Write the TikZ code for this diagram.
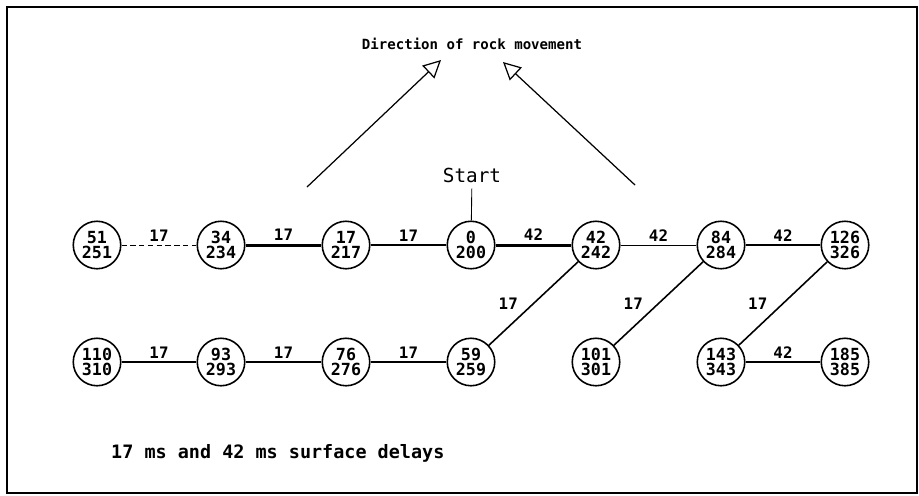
\documentclass[tikz,border=0pt]{standalone}
\usepackage{fontspec}
\setmainfont{DejaVu Sans}
\setmonofont{DejaVu Sans Mono}
\usetikzlibrary{arrows.meta, positioning}

\begin{document}
\begin{tikzpicture}[
  x=0.02cm, y=-0.02cm,
  hole/.style={draw, circle, line width=0.9pt, minimum size=0.95cm, inner sep=0pt, align=center, font=\ttfamily\bfseries\fontsize{9.5}{8.5}\selectfont},
  link/.style={line width=0.9pt},
  heavy/.style={line width=1.7pt},
  faint/.style={line width=0.5pt},
  delay/.style={font=\ttfamily\bfseries\fontsize{9}{9}\selectfont, inner sep=1.5pt},
  arrow/.style={-{Triangle[open, length=10pt, width=10pt]}, line width=0.7pt}
]
\useasboundingbox (0,0) rectangle (919,495);
\draw[line width=1.1pt] (7,7) rectangle (917,493);

\node[font=\ttfamily\bfseries\fontsize{8}{9}\selectfont] (title) at (472,44) {Direction of rock movement};
\node[font=\ttfamily\fontsize{11}{12}\selectfont] (start) at (472,175) {Start};

\node[hole] (h51) at (97,245) {51\\251};
\node[hole] (h34) at (221,245) {34\\234};
\node[hole] (h17) at (346,245) {17\\217};
\node[hole] (h0) at (471,245) {0\\200};
\node[hole] (h42) at (596,245) {42\\242};
\node[hole] (h84) at (721,245) {84\\284};
\node[hole] (h126) at (845,245) {126\\326};

\node[hole] (h110) at (97,362) {110\\310};
\node[hole] (h93) at (221,362) {93\\293};
\node[hole] (h76) at (346,362) {76\\276};
\node[hole] (h59) at (471,362) {59\\259};
\node[hole] (h101) at (596,362) {101\\301};
\node[hole] (h143) at (721,362) {143\\343};
\node[hole] (h185) at (845,362) {185\\385};

\coordinate (tailL) at (307,187);
\coordinate (tipL) at (441,60);
\coordinate (tailR) at (635,185);
\coordinate (tipR) at (503,62);
\draw[arrow] (tailL) -- (tipL);
\draw[arrow] (tailR) -- (tipR);

\draw[faint] (start) -- (h0);

\draw[faint, densely dashed] (h51) -- node[delay, above] {17} (h34);
\draw[heavy] (h34) -- node[delay, above] {17} (h17);
\draw[link] (h17) -- node[delay, above] {17} (h0);
\draw[heavy] (h0) -- node[delay, above] {42} (h42);
\draw[faint] (h42) -- node[delay, above] {42} (h84);
\draw[link] (h84) -- node[delay, above] {42} (h126);

\draw[link] (h42) -- node[delay, left=7pt] {17} (h59);
\draw[link] (h84) -- node[delay, left=7pt] {17} (h101);
\draw[link] (h126) -- node[delay, left=7pt] {17} (h143);

\draw[link] (h110) -- node[delay, above] {17} (h93);
\draw[link] (h93) -- node[delay, above] {17} (h76);
\draw[link] (h76) -- node[delay, above] {17} (h59);
\draw[link] (h143) -- node[delay, above] {42} (h185);

\node[anchor=west, font=\ttfamily\bfseries\fontsize{10.5}{12}\selectfont] (note) at (105,453) {17 ms and 42 ms surface delays};
\end{tikzpicture}
\end{document}
